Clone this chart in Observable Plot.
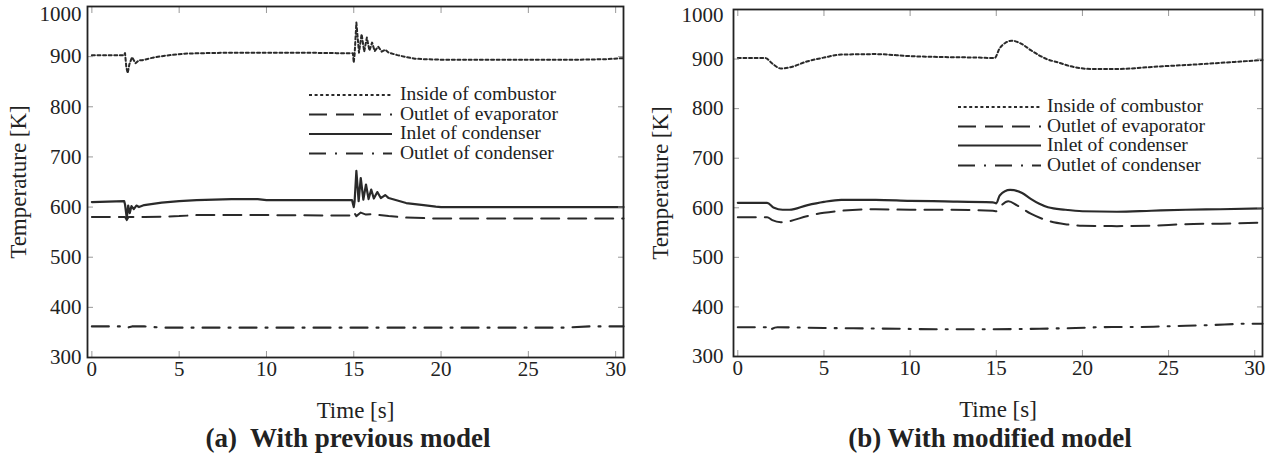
<!DOCTYPE html>
<html><head><meta charset="utf-8">
<script src="https://cdn.jsdelivr.net/npm/d3@7"></script>
<script src="https://cdn.jsdelivr.net/npm/@observablehq/plot@0.6"></script>
<style>
body{margin:0;background:#fff;}
#wrap{position:relative;width:1271px;height:460px;font-family:"Liberation Serif",serif;color:#222;overflow:hidden;}
.panel{position:absolute;top:0;}
.cap{position:absolute;font-weight:bold;font-size:27px;white-space:pre;transform:translateX(-50%);top:423px;line-height:30px;}
.legend{position:absolute;left:0;top:0;overflow:visible;}
svg text{font-family:"Liberation Serif",serif !important;}
g[aria-label="y-axis label"] text, g[aria-label="x-axis label"] text{font-size:23px;}
</style></head>
<body><div id="wrap"></div>
<script>
// ---- axes
const xTicks = [0, 5, 10, 15, 20, 25, 30];
const yTicks = [300, 400, 500, 600, 700, 800, 900, 1000];
const xDomain = [-0.25, 30.45];
const yDomain = [300, 1000];
const legendLabels = ["Inside of combustor", "Outlet of evaporator", "Inlet of condenser", "Outlet of condenser"];
const captions = ["(a)  With previous model", "(b) With modified model"];

// ---- (a) previous model
const tA_comb = [0, 1.85, 1.9, 1.97, 2.05, 2.15, 2.3, 2.5, 2.7, 2.9, 3.5, 4.2, 5.3, 6.5, 8, 10, 12, 14, 14.95, 15.0, 15.05, 15.15, 15.3, 15.45, 15.6, 15.75, 15.9, 16.05, 16.2, 16.4, 16.6, 16.8, 17, 17.5, 18, 18.5, 19, 20, 22, 25, 28, 29.5, 30.45];
const vA_comb = [903, 903, 907, 880, 867, 885, 899, 887, 893, 893, 898, 902, 906, 907, 908, 908, 908, 907, 907, 888, 905, 968, 908, 945, 910, 938, 912, 928, 911, 920, 910, 914, 908, 903, 899, 896, 895, 894, 894, 894, 894, 895, 897];

const tA_evap = [0, 1.9, 2.0, 2.1, 3, 5, 6, 10, 14.9, 15.0, 15.15, 15.4, 15.7, 16, 17, 18, 19, 20, 30.45];
const vA_evap = [580, 580, 574, 580, 580, 582, 584, 584, 583, 590, 582, 589, 585, 586, 582, 579, 578, 577, 577];

const tA_inl = [0, 1.85, 1.9, 2.0, 2.08, 2.17, 2.27, 2.4, 2.55, 2.7, 3.0, 4, 5, 6, 8, 9.5, 10, 14.9, 15.0, 15.05, 15.15, 15.28, 15.4, 15.55, 15.7, 15.85, 16.0, 16.15, 16.35, 16.55, 16.8, 17, 17.5, 18, 19, 19.7, 20, 30.45];
const vA_inl = [610, 612, 605, 578, 603, 588, 602, 596, 603, 600, 604, 609, 612, 614, 616, 616, 614, 614, 600, 612, 672, 612, 658, 615, 645, 616, 635, 617, 630, 618, 624, 618, 613, 608, 604, 601, 600, 600];

const tA_cond = [0, 1.9, 2.1, 2.3, 3, 4, 10, 20, 27, 28.5, 30.45];
const vA_cond = [362, 362, 360, 362, 362, 359.5, 359.5, 359.5, 359.5, 362, 362];

// ---- (b) modified model
const tB_comb = [0, 1.6, 2.0, 2.5, 3.0, 4, 5, 6, 8, 10, 12, 14, 14.9, 15.2, 15.5, 15.9, 16.5, 17, 18, 18.5, 19.5, 20.5, 22, 24.4, 26, 28.3, 30.45];
const vB_comb = [902, 902, 891, 881, 883, 895, 903, 909, 910, 906, 904, 903, 902, 922, 932, 937, 930, 918, 899, 894, 884, 880, 880, 885, 888, 893, 898];

const tB_evap = [0, 1.7, 2.0, 2.5, 3, 4, 5, 6, 8, 10, 12, 14.8, 15.0, 15.3, 15.7, 16.2, 17, 18, 19, 20, 22, 24, 26, 28, 30.45];
const vB_evap = [581, 581, 575, 571, 573, 583, 590, 594, 597, 596, 596, 594, 593, 605, 613, 605, 588, 574, 567, 564, 563, 564, 567, 568, 570];

const tB_inl = [0, 1.7, 2.1, 2.6, 3.0, 4, 5, 6, 8, 10, 12, 14.8, 15.0, 15.2, 15.8, 16.5, 17, 17.5, 18, 19, 20, 22, 24, 26, 28, 30.45];
const vB_inl = [610, 610, 600, 596, 596, 605, 612, 616, 616, 614, 613, 611, 609, 625, 636, 630, 618, 608, 601, 596, 593, 592, 594, 596, 597, 599];

const tB_cond = [0, 1.75, 1.85, 2.0, 2.3, 5, 9.3, 11.5, 14, 17.5, 19.6, 21.7, 23.2, 25.4, 27.5, 29.5, 30.45];
const vB_cond = [359, 359, 352, 356, 359, 357.5, 356, 355, 355, 356, 357.5, 359.5, 359.5, 361.5, 363.5, 366, 366];

// ---- styles (not data)
const lineStyles = [
  {dash: "3,2.6", w: 2},
  {dash: "18,9", w: 2},
  {dash: null, w: 2.2},
  {dash: "17,9,2,9", w: 2.1}
];

const zip = (t, v) => t.map((d, i) => ({t: d, v: v[i]}));
const seriesA = [zip(tA_comb, vA_comb), zip(tA_evap, vA_evap), zip(tA_inl, vA_inl), zip(tA_cond, vA_cond)];
const seriesB = [zip(tB_comb, vB_comb), zip(tB_evap, vB_evap), zip(tB_inl, vB_inl), zip(tB_cond, vB_cond)];

const fmt = d3.format("d");
const font = {fontFamily: "Liberation Serif", fontSize: 21};

function makePanel(series, o, curve) {
  return Plot.plot({
    width: o.width, height: 420,
    marginLeft: o.ml, marginRight: o.mr, marginTop: o.mt, marginBottom: o.mb,
    style: {fontFamily: "Liberation Serif", fontSize: "21px", color: "#222", background: "transparent", overflow: "visible"},
    x: {domain: xDomain},
    y: {domain: yDomain},
    marks: [
      ...series.map((d, i) => Plot.line(d, {x: "t", y: "v", stroke: "#2a2a2a", strokeWidth: lineStyles[i].w, strokeDasharray: lineStyles[i].dash, curve})),
      Plot.axisX({...font, ticks: xTicks, tickFormat: fmt, tickSize: -6, tickPadding: 10, stroke: "#999", label: "Time [s]", labelAnchor: "center", labelOffset: 60, labelArrow: "none"}),
      Plot.axisX({anchor: "top", ticks: xTicks, tickSize: -6, stroke: "#999", tickFormat: () => "", label: null}),
      Plot.axisY({...font, ticks: yTicks.filter(v => v < yDomain[1]), tickFormat: fmt, tickSize: -6, tickPadding: o.tp, stroke: "#999", label: "Temperature [K]", labelAnchor: "center", labelOffset: o.lo, labelArrow: "none"}),
      Plot.axisY({...font, ticks: [yDomain[1]], tickFormat: fmt, tickSize: 0, tickPadding: o.tp - 6, dy: o.topDy, label: null}),
      Plot.axisY({anchor: "right", ticks: yTicks, tickSize: -6, stroke: "#999", tickFormat: () => "", label: null}),
      Plot.frame({stroke: "#222", strokeWidth: 1.8})
    ]
  });
}

const wrap = document.getElementById("wrap");
const configs = [
  {left: 0, width: 640, ml: 87, mr: 17, mt: 6, mb: 63, lo: 78, tp: 12, topDy: 8, series: seriesA, curve: "linear",
   leg: {x0: 309, x1: 392, tx: 400, y: [96, 115.5, 135, 154.5]}, cap: 348},
  {left: 640, width: 631, ml: 93, mr: 9, mt: 9, mb: 64, lo: 82, tp: 16, topDy: 6, series: seriesB, curve: "monotone-x",
   leg: {x0: 958, x1: 1041, tx: 1047, y: [108, 127.5, 146.5, 166.5]}, cap: 990}
];

configs.forEach((c, k) => {
  const chart = makePanel(c.series, c, c.curve);
  const div = document.createElement("div");
  div.className = "panel";
  div.style.left = c.left + "px";
  div.appendChild(chart);
  wrap.appendChild(div);

  // legend overlay
  const svg = d3.select(wrap).append("svg").attr("class", "legend").attr("width", 1271).attr("height", 460);
  legendLabels.forEach((lab, i) => {
    const y = c.leg.y[i];
    svg.append("line").attr("x1", c.leg.x0).attr("x2", c.leg.x1).attr("y1", y - 1).attr("y2", y - 1)
      .attr("stroke", "#2a2a2a").attr("stroke-width", lineStyles[i].w)
      .attr("stroke-dasharray", lineStyles[i].dash);
    svg.append("text").attr("x", c.leg.tx).attr("y", y).attr("dominant-baseline", "middle")
      .attr("font-size", 19.5).attr("fill", "#222").text(lab);
  });

  const cap = document.createElement("div");
  cap.className = "cap";
  cap.style.left = c.cap + "px";
  cap.textContent = captions[k];
  wrap.appendChild(cap);
});
</script>
</body></html>
